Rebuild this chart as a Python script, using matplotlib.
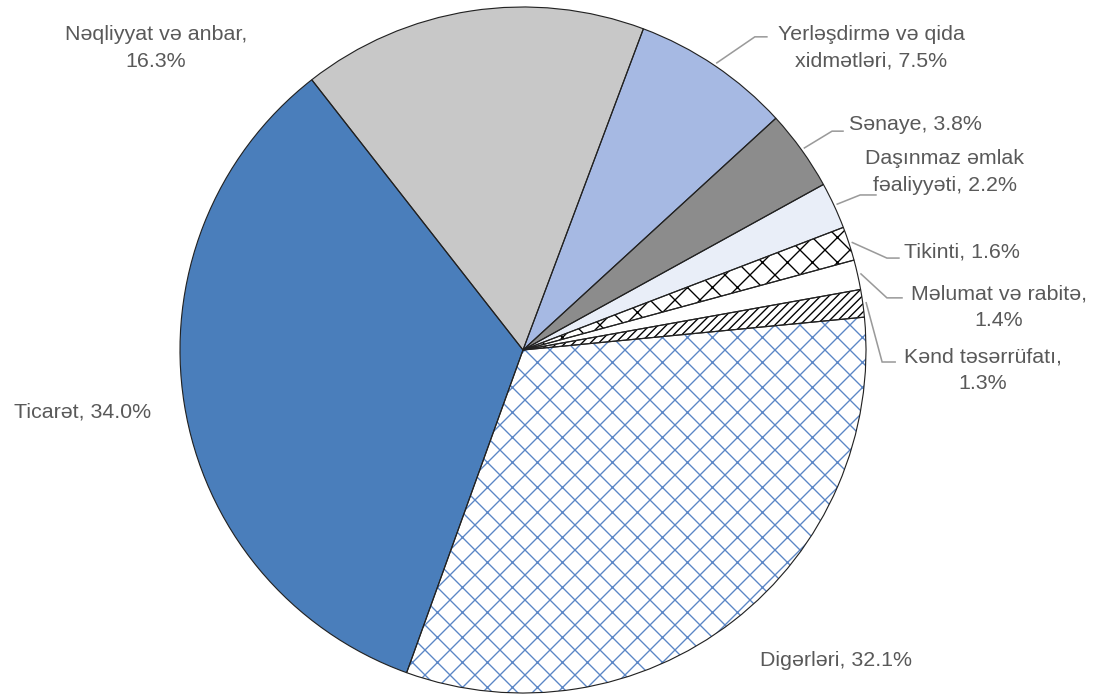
import matplotlib.pyplot as plt
import numpy as np

plt.rcParams['font.family'] = ['Liberation Sans', 'DejaVu Sans']
plt.rcParams['hatch.linewidth'] = 1.3

# Sectors, clockwise from just above 3 o'clock
sectors = ["Digərləri", "Ticarət", "Nəqliyyat və anbar", "Yerləşdirmə və qida xidmətləri",
           "Sənaye", "Daşınmaz əmlak fəaliyyəti", "Tikinti", "Məlumat və rabitə",
           "Kənd təsərrüfatı"]
shares = [32.1, 34.0, 16.3, 7.5, 3.8, 2.2, 1.6, 1.4, 1.3]
label_texts = ["Digərləri, {:.1f}%", "Ticarət, {:.1f}%", "Nəqliyyat və anbar,\n{:.1f}%",
               "Yerləşdirmə və qida\nxidmətləri, {:.1f}%", "Sənaye, {:.1f}%",
               "Daşınmaz əmlak\nfəaliyyəti, {:.1f}%", "Tikinti, {:.1f}%",
               "Məlumat və rabitə,\n{:.1f}%", "Kənd təsərrüfatı,\n{:.1f}%"]

faces = ["white", "#4a7ebb", "#c8c8c8", "#a6b9e3", "#8c8c8c", "#e9eef8", "white", "white", "white"]
hatches = ["x", None, None, None, None, None, "x", None, "///"]
hatch_colors = ["#5b86c6", None, None, None, None, None, "black", None, "black"]

# label centre positions (data units, pie radius = 1)
label_pos = [(0.913, -0.904), (-1.283, -0.181), (-1.070, 0.880), (1.015, 0.880),
             (1.143, 0.656), (1.230, 0.519), (1.280, 0.286), (1.388, 0.125), (1.341, -0.058)]
# leader lines: (elbow, end) or None
leaders = [None, None, None,
           ((0.676, 0.913), (0.711, 0.913)),
           ((0.901, 0.638), (0.933, 0.638)),
           ((0.983, 0.452), (1.029, 0.452)),
           ((1.061, 0.268), (1.096, 0.268)),
           ((1.061, 0.152), (1.105, 0.152)),
           ((1.047, -0.035), (1.085, -0.035))]

fig = plt.figure(figsize=(1103 / 75, 695 / 75), dpi=75)
ax = fig.add_axes([0, 0, 1, 1])

start = 5.5
wedges, _ = ax.pie(shares, colors=faces, startangle=start, counterclock=False,
                   radius=1, wedgeprops=dict(linewidth=0))
for w, h, hc in zip(wedges, hatches, hatch_colors):
    if h:
        w.set_hatch(h)
        w.set_edgecolor(hc)

# outlines on top of the hatching
ax.pie(shares, colors=["none"] * len(shares), startangle=start, counterclock=False,
       radius=1, wedgeprops=dict(linewidth=1.1, edgecolor="#222222", fill=False))

for w, txt, val, pos, ld in zip(wedges, label_texts, shares, label_pos, leaders):
    ax.text(pos[0], pos[1], txt.format(val), ha="center", va="center",
            multialignment="center", fontsize=20.5, color="#595959", linespacing=1.5)
    if ld:
        mid = np.deg2rad((w.theta1 + w.theta2) / 2)
        x0, y0 = 1.01 * np.cos(mid), 1.01 * np.sin(mid)
        (ex, ey), (tx, ty) = ld
        ax.plot([x0, ex, tx], [y0, ey, ty], color="#9a9a9a", lw=1.5,
                solid_joinstyle="miter", zorder=0.5)

ax.set_aspect("auto")
ax.set_xlim(-1.5248, 1.6910)
ax.set_ylim(-1.0058, 1.0204)
ax.axis("off")

fig.savefig("out.png", dpi=75, facecolor="white")
